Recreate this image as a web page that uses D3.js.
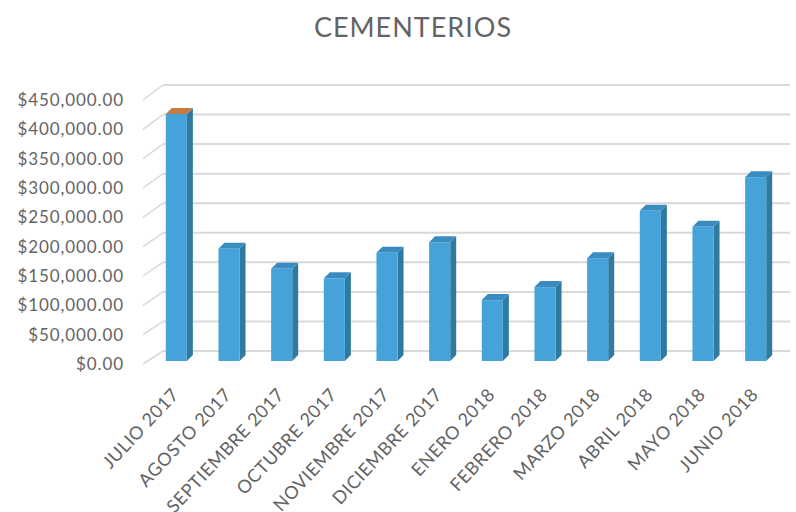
<!DOCTYPE html>
<html>
<head>
<meta charset="utf-8">
<script src="https://cdn.jsdelivr.net/npm/d3@7"></script>
<style>
  body { margin: 0; background: #fff; }
  text { font-family: Lato, "Open Sans", sans-serif; fill: #636363; }
</style>
</head>
<body>
<div id="graph"></div>
<script>
var months = ["JULIO 2017", "AGOSTO 2017", "SEPTIEMBRE 2017", "OCTUBRE 2017",
  "NOVIEMBRE 2017", "DICIEMBRE 2017", "ENERO 2018", "FEBRERO 2018",
  "MARZO 2018", "ABRIL 2018", "MAYO 2018", "JUNIO 2018"];
var amounts = [418000, 190000, 156000, 140000, 183000, 201000,
  103000, 125000, 174000, 254000, 227000, 311000];
var yTicks = [0, 50000, 100000, 150000, 200000, 250000, 300000, 350000, 400000, 450000];

var svg = d3.select("#graph")
    .append("svg")
    .attr("width", 796)
    .attr("height", 512);

var x = d3.scaleBand()
    .domain(months)
    .range([150, 782])
    .paddingInner(0.6)
    .paddingOuter(0.3);

// bars stand on this plane, the gridlines sit on the back wall
var y = d3.scaleLinear().domain([0, 450000]).range([361, 95]);
var yBack = d3.scaleLinear().domain([0, 450000]).range([351, 85]);
var yLabel = d3.scaleLinear().domain([0, 450000]).range([364, 100]);
var depth = 6;
var fmt = d3.format("$,.2f");

// gridlines
svg.selectAll("line.grid")
  .data(yTicks)
  .enter()
  .append("line")
  .attr("x1", 163).attr("x2", 790)
  .attr("y1", function (d) { return yBack(d); })
  .attr("y2", function (d) { return yBack(d); })
  .attr("stroke", "#d9d9d9")
  .attr("stroke-width", 2);

// little slanted ticks from the labels to the back wall
svg.selectAll("line.tick")
  .data(yTicks)
  .enter()
  .append("line")
  .attr("x1", 143).attr("x2", 163)
  .attr("y1", function (d) { return yLabel(d); })
  .attr("y2", function (d) { return yBack(d); })
  .attr("stroke", "#d9d9d9")
  .attr("stroke-width", 1.5);

svg.selectAll("text.ylab")
  .data(yTicks)
  .enter()
  .append("text")
  .attr("x", 124)
  .attr("y", function (d) { return yLabel(d); })
  .attr("dy", "0.35em")
  .attr("text-anchor", "end")
  .attr("font-size", 17)
  .attr("letter-spacing", 0.9)
  .text(function (d) { return fmt(d); });

var bars = svg.selectAll("g.bar")
  .data(months)
  .enter()
  .append("g");

// side face
bars.append("path")
  .attr("fill", "#2f7aa1")
  .attr("d", function (d, i) {
    var x1 = x(d) + x.bandwidth(), t = y(amounts[i]), b = y(0);
    return "M" + x1 + "," + t + "L" + (x1 + depth) + "," + (t - depth) +
      "L" + (x1 + depth) + "," + (b - depth) + "L" + x1 + "," + b + "Z";
  });

// top face
bars.append("path")
  .attr("fill", function (d, i) { return i === 0 ? "#c97a3e" : "#3a8cc0"; })
  .attr("d", function (d, i) {
    var x0 = x(d), x1 = x0 + x.bandwidth(), t = y(amounts[i]);
    return "M" + x0 + "," + t + "L" + (x0 + depth) + "," + (t - depth) +
      "L" + (x1 + depth) + "," + (t - depth) + "L" + x1 + "," + t + "Z";
  });

// front face
bars.append("rect")
  .attr("fill", "#46a3da")
  .attr("x", function (d) { return x(d); })
  .attr("width", x.bandwidth())
  .attr("y", function (d, i) { return y(amounts[i]); })
  .attr("height", function (d, i) { return y(0) - y(amounts[i]); });

svg.selectAll("text.xlab")
  .data(months)
  .enter()
  .append("text")
  .attr("text-anchor", "end")
  .attr("font-size", 18)
  .attr("letter-spacing", 0.6)
  .attr("transform", function (d) {
    return "translate(" + (x(d) + x.bandwidth() / 2 - 1) + ",391) rotate(-47)";
  })
  .attr("dy", "0.35em")
  .text(function (d) { return d; });

svg.append("text")
  .attr("x", 413)
  .attr("y", 37)
  .attr("text-anchor", "middle")
  .attr("font-size", 27)
  .attr("letter-spacing", 1)
  .text("CEMENTERIOS");
</script>
</body>
</html>
